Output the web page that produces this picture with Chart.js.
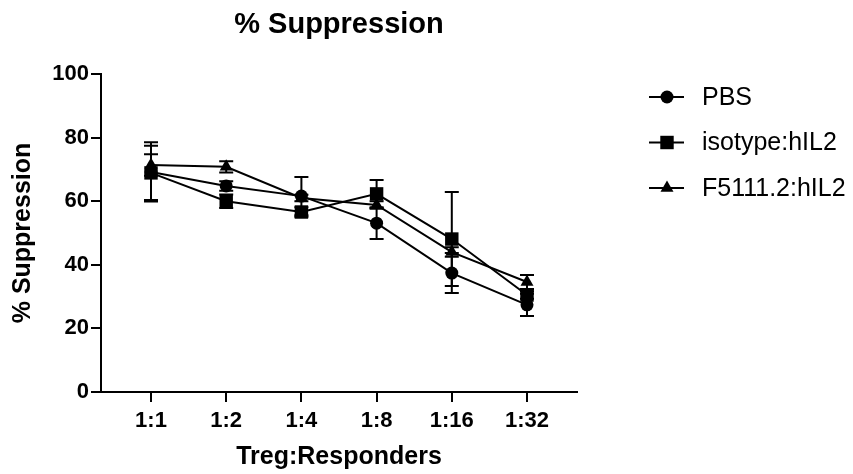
<!DOCTYPE html>
<html>
<head>
<meta charset="utf-8">
<script src="https://cdn.jsdelivr.net/npm/chart.js@4"></script>
<style>
  html, body { margin: 0; padding: 0; background: #fff; }
  #wrap { width: 853px; height: 474px; }
</style>
</head>
<body>
<div id="wrap"><canvas id="chart" width="853" height="474"></canvas></div>
<script>
// Data
const categories = ['1:1', '1:2', '1:4', '1:8', '1:16', '1:32'];
const seriesNames = ['PBS', 'isotype:hIL2', 'F5111.2:hIL2'];
const pbsMean = [69.2, 64.8, 61.6, 53.1, 37.4, 27.4];
const pbsErr = [9.3, 1.5, 6.0, 5.0, 6.3, 3.5];
const isoMean = [68.9, 60.0, 56.6, 62.3, 48.1, 30.5];
const isoErr = [8.5, 2.1, 1.5, 4.4, 14.8, 1.2];
const f5Mean = [71.4, 70.8, 61.0, 58.8, 44.0, 34.6];
const f5Err = [3.4, 1.8, 1.0, 1.2, 1.5, 2.2];
const yTicks = [0, 20, 40, 60, 80, 100];

const FONT = '"Liberation Sans", Arial, sans-serif';

const toPoints = arr => arr.map((v, i) => ({ x: i, y: v }));

const errors = [pbsErr, isoErr, f5Err];

// Error bars drawn through the chart scales
const errorBars = {
    id: 'errorBars',
    beforeDatasetsDraw(chart) {
        const ctx = chart.ctx;
        const xs = chart.scales.x, ys = chart.scales.y;
        ctx.save();
        ctx.strokeStyle = '#000';
        ctx.lineWidth = 2;
        chart.data.datasets.forEach((ds, di) => {
            ds.data.forEach((p, i) => {
                const e = errors[di][i];
                const x = xs.getPixelForValue(p.x);
                const top = ys.getPixelForValue(p.y + e);
                const bot = ys.getPixelForValue(p.y - e);
                ctx.beginPath();
                ctx.moveTo(x, top); ctx.lineTo(x, bot);
                ctx.moveTo(x - 7, top); ctx.lineTo(x + 7, top);
                ctx.moveTo(x - 7, bot); ctx.lineTo(x + 7, bot);
                ctx.stroke();
            });
        });
        ctx.restore();
    }
};

// Title and legend in GraphPad style
const decorations = {
    id: 'decorations',
    afterDraw(chart) {
        const ctx = chart.ctx;
        const area = chart.chartArea;
        ctx.save();
        ctx.fillStyle = '#000';
        ctx.font = 'bold 29px ' + FONT;
        ctx.textAlign = 'center';
        ctx.textBaseline = 'middle';
        ctx.fillText('% Suppression', (area.left + area.right) / 2, 25);

        ctx.font = '25px ' + FONT;
        ctx.textAlign = 'left';
        chart.data.datasets.forEach((ds, i) => {
            const y = 97 + i * 45.5;
            ctx.strokeStyle = '#000';
            ctx.lineWidth = 2;
            ctx.beginPath();
            ctx.moveTo(649, y); ctx.lineTo(684, y);
            ctx.stroke();
            Chart.helpers.drawPoint(ctx, {
                pointStyle: ds.pointStyle,
                radius: ds.pointRadius,
                rotation: 0,
                borderWidth: 0
            }, 667, y);
            ctx.fillStyle = '#000';
            ctx.fillText(ds.label, 702, y + 1);
        });
        ctx.restore();
    }
};

const makeSet = (label, data, style, r) => ({
    label: label,
    data: toPoints(data),
    pointStyle: style,
    pointRadius: r,
    pointHoverRadius: r,
    borderColor: '#000',
    backgroundColor: '#000',
    pointBackgroundColor: '#000',
    pointBorderColor: '#000',
    pointBorderWidth: 0,
    borderWidth: 2,
    showLine: true
});

new Chart(document.getElementById('chart'), {
    type: 'scatter',
    data: {
        datasets: [
            makeSet(seriesNames[0], pbsMean, 'circle', 6.5),
            makeSet(seriesNames[1], isoMean, 'rect', 9.5),
            makeSet(seriesNames[2], f5Mean, 'triangle', 7.5)
        ]
    },
    options: {
        responsive: false,
        animation: false,
        layout: { padding: { top: 74, right: 276, left: 0, bottom: 0 } },
        plugins: {
            legend: { display: false },
            title: { display: false },
            tooltip: { enabled: false }
        },
        scales: {
            x: {
                type: 'linear',
                min: -0.665,
                max: 5.665,
                afterBuildTicks: s => { s.ticks = categories.map((c, i) => ({ value: i })); },
                afterFit: s => { s.height = 82; },
                ticks: {
                    callback: v => categories[v],
                    color: '#000',
                    font: { family: FONT, size: 22, weight: 'bold' },
                    padding: 6,
                    maxRotation: 0
                },
                grid: { drawOnChartArea: false, color: '#000', lineWidth: 2, tickLength: 10 },
                border: { color: '#000', width: 2 },
                title: {
                    display: true,
                    text: 'Treg:Responders',
                    color: '#000',
                    font: { family: FONT, size: 25, weight: 'bold' },
                    padding: { top: 4, bottom: 2 }
                }
            },
            y: {
                min: 0,
                max: 100,
                afterBuildTicks: s => { s.ticks = yTicks.map(v => ({ value: v })); },
                afterFit: s => { s.width = 101; },
                ticks: {
                    color: '#000',
                    font: { family: FONT, size: 22, weight: 'bold' },
                    padding: 2
                },
                grid: { drawOnChartArea: false, color: '#000', lineWidth: 2, tickLength: 10 },
                border: { color: '#000', width: 2 },
                title: {
                    display: true,
                    text: '% Suppression',
                    color: '#000',
                    font: { family: FONT, size: 25, weight: 'bold' },
                    padding: { top: 8, bottom: 0 }
                }
            }
        }
    },
    plugins: [errorBars, decorations]
});
</script>
</body>
</html>
